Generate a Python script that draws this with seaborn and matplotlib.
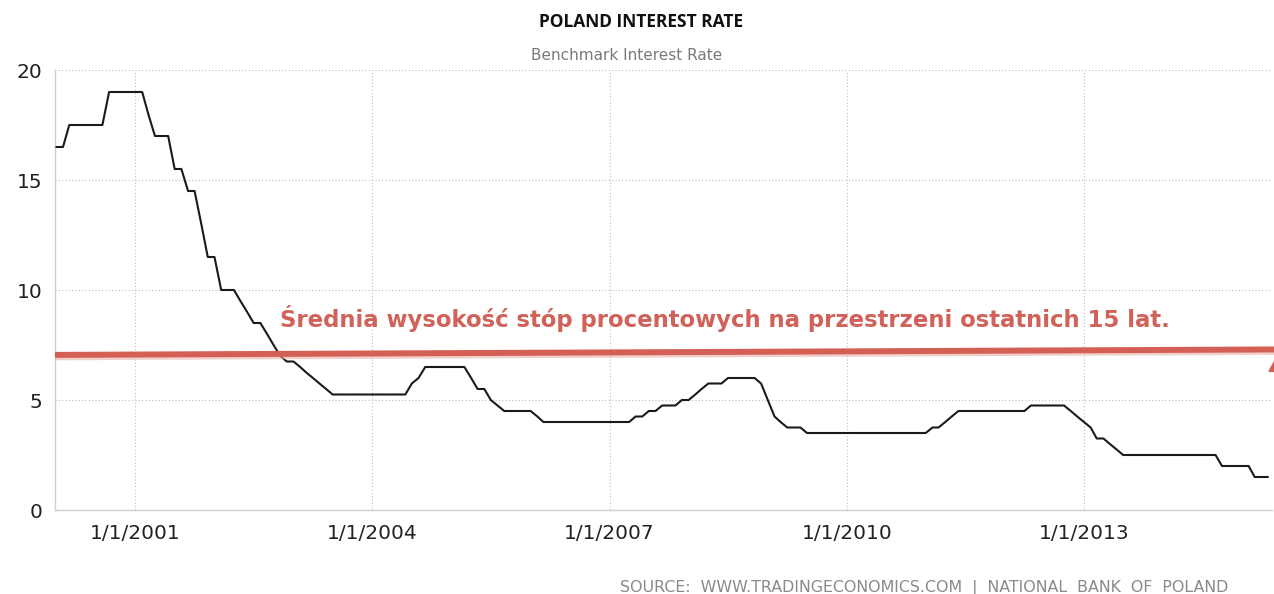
import numpy as np
import pandas as pd
import matplotlib
matplotlib.use("Agg")
import matplotlib.pyplot as plt
import matplotlib.dates as mdates
from matplotlib.patches import Polygon
import seaborn as sns

# ---------------- data (monthly benchmark rate, Jan 2000 - May 2015) ----------------
rates_2000 = [16.5, 16.5, 17.5, 17.5, 17.5, 17.5, 17.5, 17.5, 19, 19, 19, 19]
rates_2001 = [19, 19, 18, 17, 17, 17, 15.5, 15.5, 14.5, 14.5, 13, 11.5]
rates_2002 = [11.5, 10, 10, 10, 9.5, 9, 8.5, 8.5, 8, 7.5, 7, 6.75]
rates_2003 = [6.75, 6.5, 6.25, 6, 5.75, 5.5, 5.25, 5.25, 5.25, 5.25, 5.25, 5.25]
rates_2004 = [5.25, 5.25, 5.25, 5.25, 5.25, 5.25, 5.75, 6, 6.5, 6.5, 6.5, 6.5]
rates_2005 = [6.5, 6.5, 6.5, 6, 5.5, 5.5, 5, 4.75, 4.5, 4.5, 4.5, 4.5]
rates_2006 = [4.5, 4.25, 4, 4, 4, 4, 4, 4, 4, 4, 4, 4]
rates_2007 = [4, 4, 4, 4, 4.25, 4.25, 4.5, 4.5, 4.75, 4.75, 4.75, 5]
rates_2008 = [5, 5.25, 5.5, 5.75, 5.75, 5.75, 6, 6, 6, 6, 6, 5.75]
rates_2009 = [5, 4.25, 4, 3.75, 3.75, 3.75, 3.5, 3.5, 3.5, 3.5, 3.5, 3.5]
rates_2010 = [3.5, 3.5, 3.5, 3.5, 3.5, 3.5, 3.5, 3.5, 3.5, 3.5, 3.5, 3.5]
rates_2011 = [3.5, 3.75, 3.75, 4, 4.25, 4.5, 4.5, 4.5, 4.5, 4.5, 4.5, 4.5]
rates_2012 = [4.5, 4.5, 4.5, 4.5, 4.75, 4.75, 4.75, 4.75, 4.75, 4.75, 4.5, 4.25]
rates_2013 = [4, 3.75, 3.25, 3.25, 3, 2.75, 2.5, 2.5, 2.5, 2.5, 2.5, 2.5]
rates_2014 = [2.5, 2.5, 2.5, 2.5, 2.5, 2.5, 2.5, 2.5, 2.5, 2, 2, 2]
rates_2015 = [2, 2, 1.5, 1.5, 1.5]

start_month = "2000-01-01"
x_tick_dates = ["2001-01-01", "2004-01-01", "2007-01-01", "2010-01-01", "2013-01-01"]
x_tick_labels = ["1/1/2001", "1/1/2004", "1/1/2007", "1/1/2010", "1/1/2013"]
y_ticks = [0, 5, 10, 15, 20]

title = "POLAND INTEREST RATE"
subtitle = "Benchmark Interest Rate"
source = "SOURCE:  WWW.TRADINGECONOMICS.COM  |  NATIONAL  BANK  OF  POLAND"
note = "Średnia wysokość stóp procentowych na przestrzeni ostatnich 15 lat."
avg_line_left, avg_line_right = 7.05, 7.3   # hand-drawn average line (annotation)
note_level = 8.3

rates = (rates_2000 + rates_2001 + rates_2002 + rates_2003 + rates_2004 + rates_2005
         + rates_2006 + rates_2007 + rates_2008 + rates_2009 + rates_2010 + rates_2011
         + rates_2012 + rates_2013 + rates_2014 + rates_2015)
dates = pd.date_range(start_month, periods=len(rates), freq="MS")
df = pd.DataFrame({"date": dates, "rate": rates})

# ---------------- figure ----------------
sns.set_theme(style="white")
plt.rcParams["font.family"] = ["DejaVu Sans"]

W, H = 1274, 594
fig = plt.figure(figsize=(W / 100, H / 100), dpi=100)
ax = fig.add_axes([55 / W, (H - 510) / H, (1272 - 55) / W, 440 / H])

sns.lineplot(data=df, x="date", y="rate", ax=ax, color="#1a1a1a", linewidth=1.5, zorder=3)

ax.set_xlim(pd.Timestamp("1999-12-26"), pd.Timestamp("2015-05-20"))
ax.set_ylim(0, 20)
ax.set_xlabel("")
ax.set_ylabel("")

ax.set_xticks(pd.to_datetime(x_tick_dates))
ax.set_xticklabels(x_tick_labels)
ax.set_yticks(y_ticks)
ax.set_yticklabels([str(v) for v in y_ticks])

ax.grid(True, which="major", axis="both", linestyle=(0, (1, 2)), color="#bdbdbd", linewidth=0.8)
for side in ["top", "right"]:
    ax.spines[side].set_visible(False)
for side in ["left", "bottom"]:
    ax.spines[side].set_color("#cfcfcf")
    ax.spines[side].set_linewidth(1.0)

ax.tick_params(axis="y", length=8, width=1, color="#cfcfcf", labelsize=14.5,
               labelcolor="#222222", pad=1)
ax.tick_params(axis="x", length=4, width=1, color="#cfcfcf", labelsize=14.5,
               labelcolor="#222222", pad=6)

# average annotation line (slightly tilted, hand drawn) + shadow
ytr = ax.get_yaxis_transform()
ax.plot([0, 1.01], [avg_line_left - 0.12, avg_line_right - 0.12], transform=ytr,
        color="#e9b1aa", linewidth=4, alpha=0.6, solid_capstyle="butt", clip_on=False, zorder=4)
ax.plot([0, 1.01], [avg_line_left, avg_line_right], transform=ytr,
        color="#d45f55", linewidth=4.3, solid_capstyle="butt", clip_on=False, zorder=5)
ax.text(0.185, note_level, note, transform=ytr, color="#d0625a", fontsize=16.4,
        fontweight="bold", ha="left", va="baseline", zorder=6)
# partially visible arrowhead at right edge
ax.add_patch(Polygon([[0.9975, 6.3], [1.003, 6.85], [1.01, 6.3]], closed=True,
                     transform=ytr, color="#d45f55", clip_on=False, zorder=5))

# titles
fig.text(641 / W, 1 - 22 / H, title, ha="center", va="center", fontsize=12.5,
         family=["Open Sans", "DejaVu Sans"], fontweight="bold", color="#111111")
fig.text(627 / W, 1 - 56 / H, subtitle, ha="center", va="center", fontsize=11,
         color="#7a7a7a")
fig.text(1228 / W, 1 - 588 / H, source, ha="right", va="center", fontsize=11.4,
         color="#8a8a8a")

fig.savefig("out.png", dpi=100)
